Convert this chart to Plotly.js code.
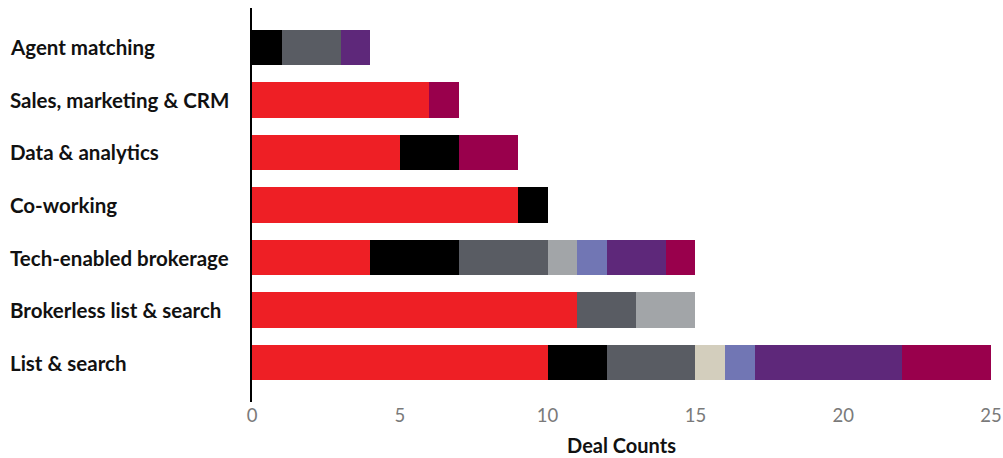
<!DOCTYPE html>
<html>
<head>
<meta charset="utf-8">
<script src="https://cdn.plot.ly/plotly-3.0.1.min.js"></script>
<style>
html,body{margin:0;padding:0;background:#fff;}
#chart{width:1003px;height:458px;}
</style>
</head>
<body>
<div id="chart"></div>
<script>
const categories = ["List & search","Brokerless list & search","Tech-enabled brokerage","Co-working","Data & analytics","Sales, marketing & CRM","Agent matching"];
const seriesNames = ["S1","S2","S3","S4","S5","S6","S7","S8"];
const s1 = [10, 11, 4, 9, 5, 6, 0];
const s2 = [2, 0, 3, 1, 2, 0, 1];
const s3 = [3, 2, 3, 0, 0, 0, 2];
const s4 = [0, 2, 1, 0, 0, 0, 0];
const s5 = [1, 0, 0, 0, 0, 0, 0];
const s6 = [1, 0, 1, 0, 0, 0, 0];
const s7 = [5, 0, 2, 0, 0, 0, 1];
const s8 = [3, 0, 1, 0, 2, 1, 0];
const seriesValues = [s1,s2,s3,s4,s5,s6,s7,s8];
const colors = ["#EE1F25","#000000","#595C63","#A2A5A8","#D3CEBD","#7176B4","#5E287A","#99004C"];
const xTicks = [0,5,10,15,20,25];

const traces = seriesValues.map((vals,i)=>({
  type:'bar', orientation:'h', name:seriesNames[i],
  y:categories, x:vals, marker:{color:colors[i], line:{width:0}},
  hoverinfo:'x+y'
}));

const annotations = categories.map(c=>({
  xref:'paper', yref:'y', x:(8-252)/739, y:c, xanchor:'left', yanchor:'middle',
  text:'<b>'+c+'</b>', showarrow:false, font:{family:'Lato, sans-serif', size:20.5, color:'#111'}
}));

const layout = {
  width:1003, height:458,
  margin:{l:252, r:12, t:8, b:56},
  barmode:'stack', bargap:0.33, showlegend:false,
  paper_bgcolor:'#fff', plot_bgcolor:'#fff',
  font:{family:'Lato, sans-serif'},
  xaxis:{range:[0,25], tickvals:xTicks, showgrid:false, zeroline:false, showline:false,
    ticks:'', tickfont:{size:18.5, color:'#7a7a7a'},
    title:{text:'<b>Deal Counts</b>', font:{size:20, color:'#111'}, standoff:14}},
  yaxis:{range:[-0.75,6.75], showticklabels:false, ticks:'', showgrid:false, zeroline:false,
    showline:true, linecolor:'#000', linewidth:2},
  annotations:annotations
};
Plotly.newPlot('chart', traces, layout, {displayModeBar:false, staticPlot:true});
</script>
</body>
</html>
